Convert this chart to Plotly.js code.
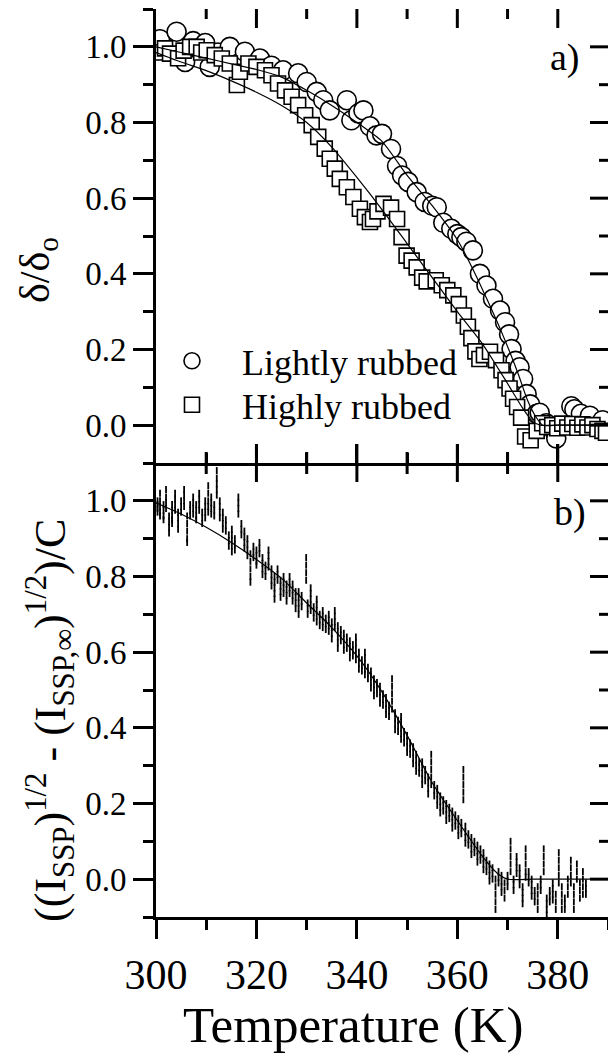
<!DOCTYPE html>
<html><head><meta charset="utf-8">
<script src="https://cdn.plot.ly/plotly-3.0.1.min.js"></script>
<style>
html,body{margin:0;padding:0;background:#fff}
#chart text{font-family:'Liberation Serif','Times New Roman',serif !important;}
#chart path.ticks{stroke:#000 !important;stroke-opacity:1 !important;stroke-width:3px !important;}
</style>
</head><body>
<div id="chart" style="width:608px;height:1053px"></div>
<script>
// ---- panel a) : Lightly rubbed (circles)
const lightT = [300.8,304.1,305.8,307.4,309.8,310.7,312.3,314.7,317.7,320.7,323.0,325.3,328.3,330.0,332.0,333.3,334.6,338.0,338.9,340.3,341.3,342.6,343.9,345.0,346.8,348.0,349.0,350.2,351.9,353.5,355.0,355.9,357.2,358.8,360.0,360.8,361.8,363.1,364.5,365.8,367.1,368.5,369.5,370.3,370.8,371.6,372.4,373.1,373.8,374.5,375.8,376.4,377.7,379.2,379.7,382.7,383.3,384.6,386.4,388.9];
const lightY = [1.02,1.04,0.96,1.015,1.01,0.947,0.985,1.0,0.987,0.969,0.95,0.938,0.93,0.907,0.881,0.859,0.832,0.859,0.806,0.824,0.832,0.79,0.766,0.77,0.73,0.685,0.66,0.643,0.616,0.59,0.58,0.576,0.535,0.519,0.505,0.497,0.485,0.462,0.40,0.369,0.334,0.303,0.272,0.24,0.201,0.17,0.153,0.122,0.082,0.055,0.03,0.033,0.005,-0.013,-0.035,0.05,0.042,0.03,0.025,0.013];
// ---- panel a) : Highly rubbed (squares)
const highT = [300.5,301.8,302.8,304.4,305.5,306.8,308.1,309.0,310.1,311.7,313.1,314.7,316.1,316.7,318.4,320.0,321.7,323.0,324.3,325.7,327.0,328.3,329.7,331.0,332.3,333.6,334.6,335.6,336.6,338.0,339.3,340.6,341.6,342.6,343.2,344.1,345.3,346.8,348.0,348.9,349.9,350.9,351.9,353.0,353.9,355.7,356.9,358.0,359.2,360.3,361.3,362.1,362.8,363.6,364.4,365.3,366.5,367.7,368.8,369.6,370.4,371.1,371.9,372.7,373.5,374.6,375.8,376.9,377.9,378.9,379.9,380.9,381.9,382.9,383.9,384.9,385.9,386.9,387.9,388.9,389.6];
const highY = [0.985,0.996,0.982,0.97,0.99,1.0,1.0,0.985,0.991,0.978,0.969,0.956,0.899,0.934,0.956,0.947,0.938,0.925,0.903,0.885,0.868,0.846,0.819,0.793,0.762,0.731,0.704,0.678,0.651,0.629,0.603,0.572,0.55,0.537,0.545,0.565,0.585,0.575,0.545,0.497,0.448,0.435,0.417,0.39,0.38,0.383,0.37,0.357,0.343,0.32,0.29,0.26,0.23,0.195,0.175,0.185,0.194,0.172,0.145,0.119,0.097,0.07,0.048,0.02,-0.03,-0.04,-0.015,0.005,-0.005,0.0,-0.008,0.004,-0.006,0.003,-0.007,0.002,-0.006,0.0,-0.01,-0.015,-0.02];
// ---- fitted curves, panel a)
const fitLightT = [300,305,310,315,320,325,330,335,340,345,350,355,360,363,366,369,372,374,375.5,377,380,385,390];
const fitLightY = [1.0,0.985,0.97,0.955,0.94,0.92,0.885,0.845,0.80,0.75,0.66,0.58,0.49,0.415,0.33,0.24,0.14,0.065,0.025,0.0,0.0,0.0,0.0];
const fitHighT = [300,305,310,315,320,325,330,335,340,345,350,355,360,365,370,373,375,376.5,380,385,390];
const fitHighY = [0.985,0.96,0.937,0.91,0.88,0.845,0.80,0.735,0.655,0.57,0.48,0.39,0.30,0.215,0.11,0.045,0.01,0.0,0.0,0.0,0.0];
// ---- panel b) : SSP signal, dotted streaks (one temperature, several readings)
const dotsT = [300.3,300.8,301.5,302.0,302.6,303.2,303.8,304.4,305.0,305.6,306.2,306.8,307.4,308.0,308.6,309.2,309.8,310.4,311.0,311.6,312.1,312.7,313.3,313.9,314.5,315.1,315.7,316.4,317.0,317.6,318.2,318.8,319.4,320.0,320.6,321.2,321.8,322.4,323.0,323.6,324.2,324.8,325.4,326.0,326.6,327.2,327.8,328.4,329.0,329.9,330.2,330.8,331.4,332.0,332.6,333.2,333.8,334.4,335.0,335.6,336.2,336.8,337.4,338.0,338.6,339.2,339.8,340.4,341.0,341.6,342.2,342.8,343.4,344.0,344.6,345.2,345.8,346.4,347.0,347.6,348.2,348.8,349.4,350.0,350.6,351.2,351.8,352.4,353.0,353.6,354.2,354.8,355.4,356.0,356.6,357.2,357.8,358.4,359.0,359.6,360.2,360.8,361.2,361.6,362.2,362.8,363.4,364.0,364.6,365.2,365.8,366.4,367.0,367.6,368.2,368.8,369.4,370.0,370.6,371.2,371.8,372.4,373.0,373.6,374.2,374.8,375.4,376.0,376.6,377.2,377.8,378.4,379.0,379.6,380.2,380.8,381.4,382.0,382.6,383.2,383.8,384.4,385.0,385.6];
const dotsY = [
[1.0,0.99,0.98,0.97],[1.02,1.0,0.985,0.97,0.96],[0.99,0.975,0.96,0.95],[1.03,1.01,0.995,0.98],[0.96,0.945,0.93,0.915],
[0.99,0.975,0.96,0.95,0.94],[1.02,1.005,0.99,0.975],[0.97,0.955,0.94,0.925],[1.0,0.985,0.97],[1.03,1.015,1.0,0.985],
[0.96,0.94,0.92,0.9,0.89],[0.99,0.975,0.96],[1.01,0.995,0.98,0.965],[0.99,0.975,0.96,0.95],[1.02,1.005,0.99,0.975],
[0.97,0.955,0.94],[1.0,0.985,0.97,0.955],[1.04,1.02,1.0,0.985,0.97],[1.01,0.995,0.98,0.965],[0.99,0.975,0.96],
[1.08,1.06,1.045,1.03,1.015],[1.0,0.985,0.97,0.955],[0.97,0.955,0.94,0.925],[0.95,0.935,0.92],[0.91,0.895,0.88],
[0.925,0.91,0.895,0.88,0.865],[0.90,0.885,0.87],[1.01,0.995,0.98,0.965],[0.94,0.925,0.91],[0.92,0.905,0.89,0.875],
[0.90,0.885,0.87,0.855],[0.86,0.84,0.82,0.80,0.785],[0.88,0.865,0.85],[0.87,0.855,0.84,0.83],[0.89,0.875,0.86],
[0.85,0.835,0.82,0.805],[0.83,0.815,0.80],[0.87,0.855,0.84,0.825],[0.82,0.805,0.79,0.775],[0.80,0.785,0.77,0.755,0.74],
[0.82,0.805,0.79],[0.79,0.775,0.76,0.745],[0.80,0.785,0.77,0.755],[0.78,0.765,0.75,0.735],[0.80,0.785,0.77,0.755],
[0.78,0.765,0.75,0.735],[0.76,0.745,0.73,0.715],[0.76,0.745,0.73,0.715,0.70],[0.75,0.735,0.72],[0.85,0.83,0.81,0.79],
[0.73,0.715,0.70],[0.77,0.755,0.74,0.725,0.71],[0.72,0.705,0.69],[0.74,0.725,0.71,0.695,0.68],[0.70,0.685,0.67],
[0.71,0.695,0.68,0.665],[0.69,0.675,0.66],[0.70,0.685,0.67,0.655],[0.68,0.665,0.65,0.635],[0.71,0.695,0.68,0.665],
[0.67,0.655,0.64,0.625,0.61],[0.66,0.645,0.63],[0.65,0.635,0.62,0.605],[0.64,0.625,0.61],[0.63,0.615,0.60,0.585],
[0.62,0.605,0.59],[0.64,0.625,0.61,0.595,0.58],[0.60,0.585,0.57,0.555],[0.58,0.565,0.55],[0.60,0.585,0.57,0.555,0.54],
[0.56,0.545,0.53],[0.55,0.535,0.52,0.505],[0.53,0.515,0.50,0.485],[0.52,0.505,0.49],[0.51,0.495,0.48,0.465],
[0.49,0.475,0.46],[0.48,0.465,0.45,0.435],[0.46,0.445,0.43],[0.53,0.51,0.49,0.47,0.45],[0.44,0.425,0.41,0.395],
[0.42,0.405,0.39],[0.43,0.415,0.40,0.385,0.37],[0.39,0.375,0.36],[0.38,0.365,0.35,0.335],[0.36,0.345,0.33],
[0.35,0.335,0.32,0.305],[0.33,0.315,0.30,0.285],[0.31,0.295,0.28],[0.31,0.295,0.28,0.265,0.25],[0.29,0.275,0.26],
[0.27,0.255,0.24,0.225],[0.33,0.31,0.29,0.27,0.25],[0.25,0.235,0.22],[0.24,0.225,0.21,0.195],[0.22,0.205,0.19,0.175],
[0.21,0.195,0.18],[0.20,0.185,0.17,0.155],[0.19,0.175,0.16],[0.18,0.165,0.15,0.135],[0.17,0.155,0.14],
[0.16,0.145,0.13,0.115],[0.15,0.135,0.12],[0.29,0.27,0.25,0.23,0.21],[0.14,0.125,0.11,0.095],[0.12,0.105,0.09],
[0.11,0.095,0.08,0.065],[0.10,0.085,0.07],[0.09,0.075,0.06,0.045],[0.08,0.065,0.05],[0.07,0.055,0.04,0.025],
[0.05,0.035,0.02],[0.04,0.025,0.01,-0.005],[0.03,0.015,0.0],[0.0,-0.02,-0.04,-0.06,-0.08],[0.02,0.005,-0.01],
[0.01,-0.005,-0.02,-0.035],[-0.01,-0.03,-0.05],[0.01,-0.005,-0.02],[0.10,0.08,0.06,0.04,0.02],[0.0,-0.015,-0.03],
[0.06,0.045,0.03,0.015],[0.03,0.015,0.0,-0.015],[-0.02,-0.035,-0.05,-0.065],[0.08,0.06,0.04,0.02,0.005],[0.02,0.005,-0.01],
[0.0,-0.015,-0.03,-0.045],[-0.03,-0.045,-0.06],[-0.02,-0.04,-0.06,-0.08],[0.0,-0.015,-0.03],[0.08,0.06,0.04,0.02],
[-0.05,-0.065,-0.08,-0.095],[-0.03,-0.045,-0.06],[-0.01,-0.025,-0.04,-0.055],[-0.04,-0.06,-0.08],[0.07,0.05,0.03,0.01,-0.01],
[-0.02,-0.04,-0.06,-0.08],[-0.05,-0.065,-0.08],[0.0,-0.02,-0.04],[0.05,0.03,0.01,-0.01],[-0.02,-0.04,-0.06,-0.08],
[0.04,0.02,0.0],[-0.01,-0.03,-0.05],[0.02,0.0,-0.02,-0.04],[-0.01,-0.025,-0.04]
];
// ---- fitted curve, panel b)
const fitSspT = [300,305,310,315,320,325,330,335,340,345,350,355,360,365,368,370,375,380,385,390];
const fitSspY = [0.995,0.965,0.93,0.89,0.845,0.795,0.73,0.665,0.59,0.495,0.38,0.255,0.155,0.06,0.015,0.0,0.0,0.0,0.0,0.0];

// ---- tick positions (inside ticks on the frame)
const xMajorTicks = [320,340,360,380];
const xMinorTicks = [310,330,350,370];
const yMajorTicks = [0.0,0.2,0.4,0.6,0.8,1.0];
const yMinorTicks = [0.1,0.3,0.5,0.7,0.9];

const seriesNames = ['Lightly rubbed','Highly rubbed'];
const panelLabels = ['a)','b)'];
const yTitleTop = 'δ/δ<sub>o</sub>';
const yTitleBottom = '((I<sub>SSP</sub>)<sup>1/2</sup> - (I<sub>SSP,∞</sub>)<sup>1/2</sup>)/C';
const xTitle = 'Temperature (K)';

// flatten streaks
const bx = [], by = [];
const n = Math.min(dotsT.length, dotsY.length);
for (let i = 0; i < n; i++) { for (const v of dotsY[i]) { bx.push(dotsT[i]); by.push(v); } }

const FONT = 'Liberation Serif, Times New Roman, serif';
const K = 'black';

const traces = [
  {x: lightT, y: lightY, xaxis:'x3', yaxis:'y', mode:'markers', name: seriesNames[0], legend:'legend',
   marker:{symbol:'circle', size:19, color:'white', line:{color:K, width:1.6}}},
  {x: highT, y: highY, xaxis:'x3', yaxis:'y', mode:'markers', name: seriesNames[1], legend:'legend2',
   marker:{symbol:'square', size:15, color:'white', line:{color:K, width:1.6}}},
  {x: fitLightT, y: fitLightY, xaxis:'x3', yaxis:'y', mode:'lines', showlegend:false,
   line:{color:K, width:1.2, shape:'spline', smoothing:0.6}},
  {x: fitHighT, y: fitHighY, xaxis:'x3', yaxis:'y', mode:'lines', showlegend:false,
   line:{color:K, width:1.2, shape:'spline', smoothing:0.6}},
  {x: bx, y: by, xaxis:'x', yaxis:'y2', mode:'markers', showlegend:false,
   marker:{symbol:'line-ns-open', size:5, color:K, line:{color:K, width:1.8}}},
  {x: fitSspT, y: fitSspY, xaxis:'x', yaxis:'y2', mode:'lines', showlegend:false,
   line:{color:K, width:1.2, shape:'spline', smoothing:0.6}}
];

const xr = [300, 390], yr = [-0.1, 1.1];
function xa(o, inside, labels) {
  return Object.assign({range:xr, showline:true, linecolor:K, linewidth:3, showgrid:false, zeroline:false,
    ticks: inside ? 'inside' : 'outside', ticklen:19, tickwidth:3, tickcolor:K, tick0:300, dtick:20,
    showticklabels: !!labels, tickfont:{family:FONT, size:42, color:K},
    minor:{dtick:10, ticks: inside ? 'inside' : 'outside', ticklen:10, tickwidth:3, tickcolor:K, showgrid:false}}, o);
}
function ya(o, inside, labels) {
  return Object.assign({range:yr, showline:true, linecolor:K, linewidth:3, showgrid:false, zeroline:false,
    ticks: inside ? 'inside' : 'outside', ticklen: inside ? 18 : 20, tickwidth:3, tickcolor:K, tick0:0, dtick:0.2,
    tickformat:'.1f', showticklabels: !!labels, tickfont:{family:FONT, size:33, color:K},
    minor:{dtick:0.1, ticks: inside ? 'inside' : 'outside', ticklen: inside ? 9 : 10, tickwidth:3, tickcolor:K, showgrid:false}}, o);
}

// inside frame ticks as pixel-sized line shapes placed through the axes
const shapes = [];
function xTick(xref, yref, anchor, t, len) {
  shapes.push({type:'line', xref:xref, yref:yref, x0:t, x1:t, ysizemode:'pixel', yanchor:anchor, y0:0, y1:len,
    line:{color:K, width:3}, layer:'above'});
}
function yTick(xref, yref, t, len) {
  shapes.push({type:'line', xref:xref, yref:yref, y0:t, y1:t, xsizemode:'pixel', xanchor:xr[1], x0:0, x1:-len,
    line:{color:K, width:3}, layer:'above'});
}
xMajorTicks.forEach(function(t){
  xTick('x3','y', yr[1], t, -19); xTick('x3','y', yr[0], t, 19); xTick('x','y2', yr[1], t, -19);
});
xMinorTicks.forEach(function(t){
  xTick('x3','y', yr[1], t, -10); xTick('x3','y', yr[0], t, 11); xTick('x','y2', yr[1], t, -11);
});
yMajorTicks.forEach(function(t){ yTick('x3','y', t, 18); yTick('x','y2', t, 18); });
yMinorTicks.forEach(function(t){ yTick('x3','y', t, 9); yTick('x','y2', t, 9); });

const layout = {
  width:608, height:1053,
  margin:{l:156, r:0, t:9, b:136},
  paper_bgcolor:'white', plot_bgcolor:'white',
  font:{family:FONT, color:K},
  showlegend:true,
  legend:{x:-0.031, xanchor:'left', y:0.6455, yanchor:'top', bgcolor:'rgba(0,0,0,0)', borderwidth:0,
    font:{family:FONT, size:36, color:K}, itemwidth:90, itemsizing:'trace'},
  legend2:{x:-0.031, xanchor:'left', y:0.597, yanchor:'top', bgcolor:'rgba(0,0,0,0)', borderwidth:0,
    font:{family:FONT, size:36, color:K}, itemwidth:90, itemsizing:'trace'},
  // bottom panel
  xaxis:  xa({anchor:'y2', side:'bottom'}, false, true),
  xaxis2: xa({overlaying:'x', anchor:'y2', side:'top'}, true, false),
  yaxis2: ya({domain:[0,0.5], anchor:'x', side:'left'}, false, true),
  yaxis4: ya({domain:[0,0.5], overlaying:'y2', anchor:'x', side:'right'}, true, false),
  // top panel
  xaxis3: xa({anchor:'y', side:'bottom'}, true, false),
  xaxis4: xa({overlaying:'x3', anchor:'y', side:'top'}, true, false),
  yaxis:  ya({domain:[0.5,1], anchor:'x3', side:'left'}, false, true),
  yaxis3: ya({domain:[0.5,1], overlaying:'y', anchor:'x3', side:'right'}, true, false),
  shapes: shapes,
  annotations: [
    {text:panelLabels[0], xref:'paper', yref:'paper', x:0.942, y:0.947, xanchor:'right', yanchor:'middle', showarrow:false, font:{family:FONT, size:38, color:K}},
    {text:panelLabels[1], xref:'paper', yref:'paper', x:0.956, y:0.446, xanchor:'right', yanchor:'middle', showarrow:false, font:{family:FONT, size:38, color:K}},
    {text:yTitleTop, xref:'paper', yref:'paper', x:-0.261, y:0.7126, xanchor:'center', yanchor:'middle', textangle:-90, showarrow:false, font:{family:FONT, size:42, color:K}},
    {text:yTitleBottom, xref:'paper', yref:'paper', x:-0.2345, y:0.216, xanchor:'center', yanchor:'middle', textangle:-90, showarrow:false, font:{family:FONT, size:44, color:K}},
    {text:xTitle, xref:'paper', yref:'paper', x:0.438, y:-0.119, xanchor:'center', yanchor:'middle', showarrow:false, font:{family:FONT, size:51, color:K}}
  ]
};

Plotly.newPlot('chart', traces, layout, {displayModeBar:false});
</script>
</body></html>
